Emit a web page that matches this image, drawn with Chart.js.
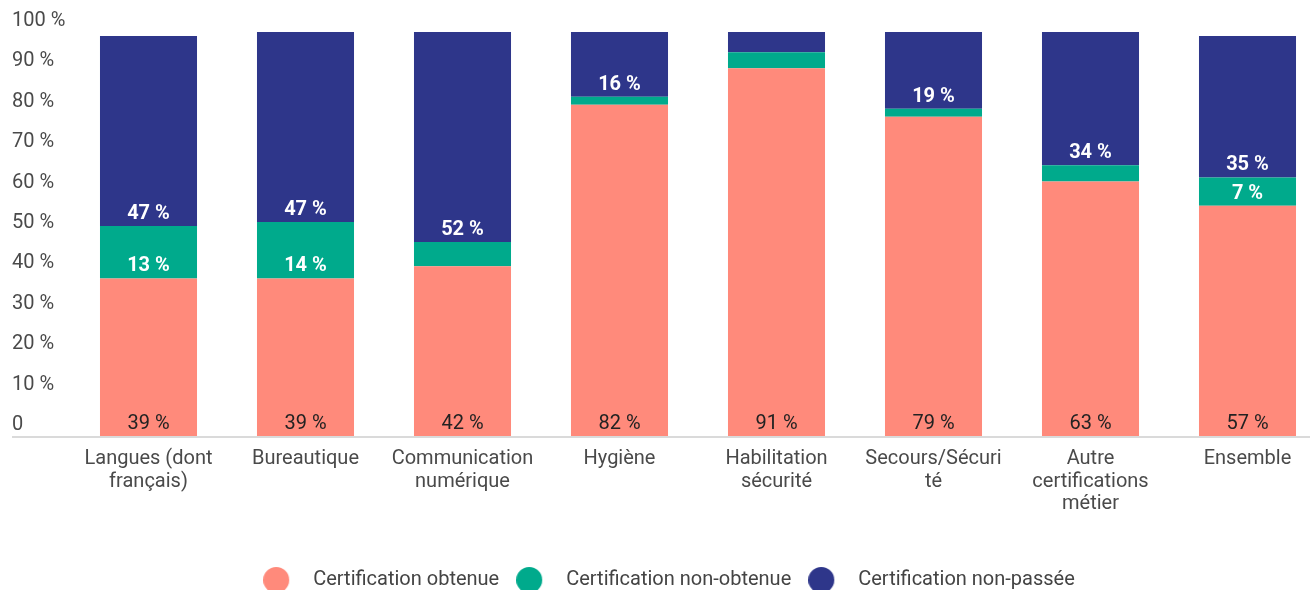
<!DOCTYPE html>
<html>
<head>
<meta charset="utf-8">
<script src="https://cdn.jsdelivr.net/npm/chart.js@4/dist/chart.umd.min.js"></script>
<style>
	html, body { margin: 0; padding: 0; background: #fff; overflow: hidden; width: 1310px; height: 590px; }
	canvas { display: block; }
</style>
</head>
<body>
<canvas id="chart" width="1340" height="600"></canvas>
<script>
// categories (multi-line labels as drawn under the bars)
var categories = [
	['Langues (dont', 'français)'],
	'Bureautique',
	['Communication', 'numérique'],
	'Hygiène',
	['Habilitation', 'sécurité'],
	['Secours/Sécuri', 'té'],
	['Autre', 'certifications', 'métier'],
	'Ensemble'
];
var seriesNames = ['Certification obtenue', 'Certification non-obtenue', 'Certification non-passée'];
var obtenue = [39, 39, 42, 82, 91, 79, 63, 57];
var nonObtenue = [13, 14, 6, 2, 4, 2, 4, 7];
var nonPassee = [47, 47, 52, 16, 5, 19, 34, 35];
var yTicks = [0, 10, 20, 30, 40, 50, 60, 70, 80, 90, 100];

var colors = ['#ff8a7b', '#00aa8c', '#2e368a'];
var FONT = 'Roboto, "Noto Sans", sans-serif';

// round legend markers, drawn as small canvases so the gap to the text can be set
// (circle sits at the left of a 40px wide box)
function dot(color) {
	var c = document.createElement('canvas');
	c.width = 40;
	c.height = 26;
	var g = c.getContext('2d');
	g.fillStyle = color;
	g.beginPath();
	g.arc(13, 13, 13, 0, Math.PI * 2);
	g.fill();
	return c;
}
var dots = colors.map(dot);

// draws the % inside each segment, near its base
var segLabels = {
	id: 'segLabels',
	afterDatasetsDraw: function (chart) {
		var ctx = chart.ctx;
		ctx.save();
		ctx.textAlign = 'center';
		ctx.textBaseline = 'middle';
		chart.data.datasets.forEach(function (ds, di) {
			var meta = chart.getDatasetMeta(di);
			meta.data.forEach(function (bar, i) {
				var v = ds.data[i];
				if (v < 7) return;
				if (di === 0) {
					ctx.fillStyle = '#222';
					ctx.font = '400 20px ' + FONT;
				} else {
					ctx.fillStyle = '#fff';
					ctx.font = '700 20px ' + FONT;
				}
				ctx.fillText(v + ' %', bar.x, bar.base - 12);
			});
		});
		ctx.restore();
	}
};

// light baseline under the bars, running from the y labels to the edge
var baseLine = {
	id: 'baseLine',
	afterDatasetsDraw: function (chart) {
		var ctx = chart.ctx;
		var y = chart.chartArea.bottom + 1;
		ctx.save();
		ctx.strokeStyle = '#dadada';
		ctx.lineWidth = 2;
		ctx.beginPath();
		ctx.moveTo(12, y);
		ctx.lineTo(chart.width, y);
		ctx.stroke();
		ctx.restore();
	}
};

var datasets = [obtenue, nonObtenue, nonPassee].map(function (d, i) {
	return {
		label: seriesNames[i],
		data: d,
		backgroundColor: colors[i],
		borderWidth: 0,
		categoryPercentage: 1,
		barPercentage: 0.618
	};
});

new Chart(document.getElementById('chart'), {
	type: 'bar',
	data: {labels: categories, datasets: datasets},
	plugins: [baseLine, segLabels],
	options: {
		responsive: false,
		animation: false,
		layout: {padding: {top: 32, left: 12, right: 14, bottom: 0}},
		plugins: {
			tooltip: {enabled: false},
			legend: {
				position: 'bottom',
				labels: {
					usePointStyle: true,
					pointStyleWidth: 40,
					boxHeight: 20,
					padding: 17,
					color: '#444',
					font: {family: FONT, size: 20},
					generateLabels: function (chart) {
						var items = Chart.defaults.plugins.legend.labels.generateLabels(chart);
						items.forEach(function (it, i) { it.pointStyle = dots[i]; });
						return items;
					}
				}
			}
		},
		scales: {
			x: {
				stacked: true,
				grid: {display: false, drawTicks: false},
				border: {display: false},
				ticks: {
					color: '#4a4a4a',
					padding: 12,
					maxRotation: 0,
					autoSkip: false,
					font: {family: FONT, size: 20, lineHeight: '22.5px'}
				},
				afterFit: function (scale) { scale.height = 117; }
			},
			y: {
				stacked: true,
				min: 0,
				max: 100,
				afterBuildTicks: function (scale) {
					scale.ticks = yTicks.map(function (v) { return {value: v}; });
				},
				grid: {display: false, drawTicks: false},
				border: {display: false},
				ticks: {
					color: '#4a4a4a',
					crossAlign: 'far',
					labelOffset: -11,
					padding: 0,
					font: {family: FONT, size: 20},
					callback: function (v) { return v === 0 ? '0' : v + ' %'; }
				},
				afterFit: function (scale) { scale.width = 58; }
			}
		}
	}
});
</script>
</body>
</html>
